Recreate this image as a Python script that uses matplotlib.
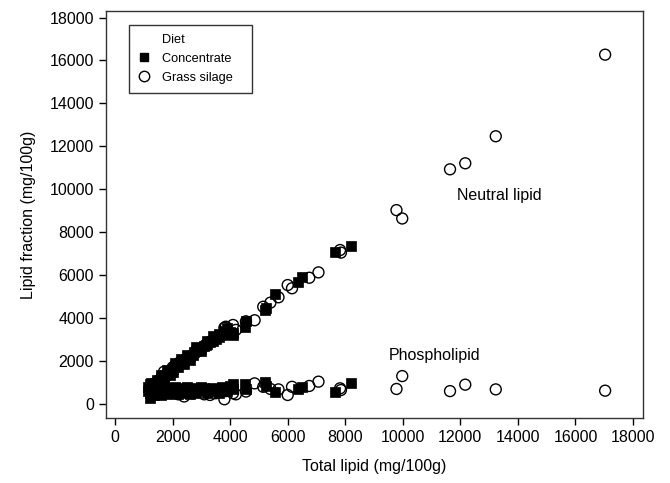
import matplotlib
matplotlib.use("Agg")
import matplotlib.pyplot as plt
from matplotlib.lines import Line2D

plt.rcParams['font.family'] = ['Liberation Sans', 'DejaVu Sans']

# Concentrate diet
conc_total = [1200, 1250, 1300, 1300, 1350, 1400, 1400, 1450, 1500, 1550, 1600, 1650, 1700, 1750,
              1800, 1850, 1900, 1950, 2000, 2050, 2100, 2200, 2250, 2300, 2400, 2450, 2500, 2600,
              2700, 2750, 2800, 2900, 3000, 3100, 3150, 3200, 3300, 3400, 3500, 3600, 3700, 3800,
              3900, 4000, 4100, 4500, 4550, 5200, 5250, 5550, 6370, 6490, 7640, 8190,
              1150, 1200, 1250, 1350, 1450, 1500, 1600, 1700, 1800, 1900, 2000, 2100, 2200, 2300,
              2400, 2500, 2600, 2800, 3000, 3200, 3400, 3600, 3800, 3900, 4100]
conc_neutral = [700, 800, 750, 900, 850, 900, 1000, 950, 1050, 1100, 1200, 1150, 1300, 1350,
                1400, 1450, 1550, 1500, 1650, 1700, 1750, 1850, 1900, 1950, 2050, 2100, 2150, 2250,
                2300, 2400, 2450, 2550, 2600, 2700, 2750, 2800, 2900, 2950, 3050, 3100, 3200, 3250,
                3300, 3350, 3300, 3600, 3850, 4380, 4450, 5100, 5700, 5900, 7090, 7360,
                600, 950, 1000, 750, 1100, 900, 1350, 1150, 1600, 1350, 1500, 1900, 1700, 2100,
                1850, 2300, 2050, 2650, 2450, 2950, 3150, 3250, 3400, 3550, 3200]
conc_phospho = [500, 550, 450, 650, 600, 500, 700, 550, 600, 500, 650, 550, 600, 700,
                550, 650, 600, 700, 550, 650, 600, 700, 650, 600, 550, 700, 650, 600,
                700, 650, 750, 700, 650, 750, 700, 650, 700, 750, 650, 700, 800, 750,
                700, 850, 950, 950, 700, 1040, 850, 580, 700, 800, 580, 960,
                800, 300, 850, 400, 750, 850, 400, 800, 450, 750, 500, 800, 450, 750,
                500, 800, 450, 500, 800, 500, 600, 500, 650, 600, 700]

# Grass silage diet
grass_total = [1700, 2000, 2200, 2400, 2500, 2700, 2900, 3100, 3300, 3500, 3800, 3850, 4100, 4200,
               4550, 4850, 5150, 5400, 5680, 6000, 6150, 6750, 7070, 7820, 7850, 9780, 9980,
               11640, 12170, 13230, 17030]
grass_neutral = [1500, 1700, 1900, 1950, 2150, 2300, 2550, 2700, 2900, 3100, 3550, 3600, 3680, 3450,
                 3850, 3900, 4530, 4720, 4970, 5540, 5390, 5880, 6130, 7170, 7050, 9030, 8640,
                 10930, 11210, 12470, 16270]
grass_phospho = [600, 500, 450, 350, 550, 500, 600, 450, 420, 500, 220, 600, 500, 450,
                 580, 960, 800, 700, 680, 420, 800, 840, 1040, 730, 650, 700, 1300,
                 600, 900, 680, 620]

ticks = list(range(0, 18001, 2000))

fig = plt.figure(figsize=(6.7, 4.83), dpi=100)
ax = fig.add_axes([0.1578, 0.1346, 0.8019, 0.8426])

sq = dict(marker='s', s=42, color='black', edgecolors='black', linewidths=0.5, zorder=2)
ci = dict(marker='o', s=62, facecolors='none', edgecolors='black', linewidths=1.0, zorder=3)

ax.scatter(conc_total, conc_neutral, **sq)
ax.scatter(conc_total, conc_phospho, **sq)
ax.scatter(grass_total, grass_neutral, **ci)
ax.scatter(grass_total, grass_phospho, **ci)

ax.set_xlim(-323, 18346)
ax.set_ylim(-652, 18303)
ax.set_xticks(ticks)
ax.set_yticks(ticks)
ax.tick_params(direction='out', length=5, width=1, labelsize=11.5, colors='black')
for sp in ax.spines.values():
    sp.set_linewidth(1.0)
    sp.set_color('#333333')

ax.set_xlabel('Total lipid (mg/100g)', fontsize=11.5, labelpad=10)
ax.set_ylabel('Lipid fraction (mg/100g)', fontsize=11.5, labelpad=10)

ax.text(11900, 9730, 'Neutral lipid', fontsize=11.5, ha='left', va='center')
ax.text(9520, 2280, 'Phospholipid', fontsize=11.5, ha='left', va='center')

handles = [Line2D([], [], linestyle='none', marker=None),
           Line2D([], [], linestyle='none', marker='s', markersize=6, color='black'),
           Line2D([], [], linestyle='none', marker='o', markersize=7.5, markerfacecolor='none',
                  markeredgecolor='black', markeredgewidth=1.0)]
leg = ax.legend(handles, ['Diet', 'Concentrate', 'Grass silage'], loc='upper left',
                bbox_to_anchor=(0.043, 0.966), fontsize=9.2,
                frameon=True, fancybox=False, edgecolor='black', handlelength=1.0,
                handletextpad=0.9, borderpad=0.7, labelspacing=0.55, borderaxespad=0)
leg.get_frame().set_linewidth(1.0)
for t in leg.get_texts():
    t.set_text(t.get_text() + '   ')

fig.savefig('out.png', dpi=100)
